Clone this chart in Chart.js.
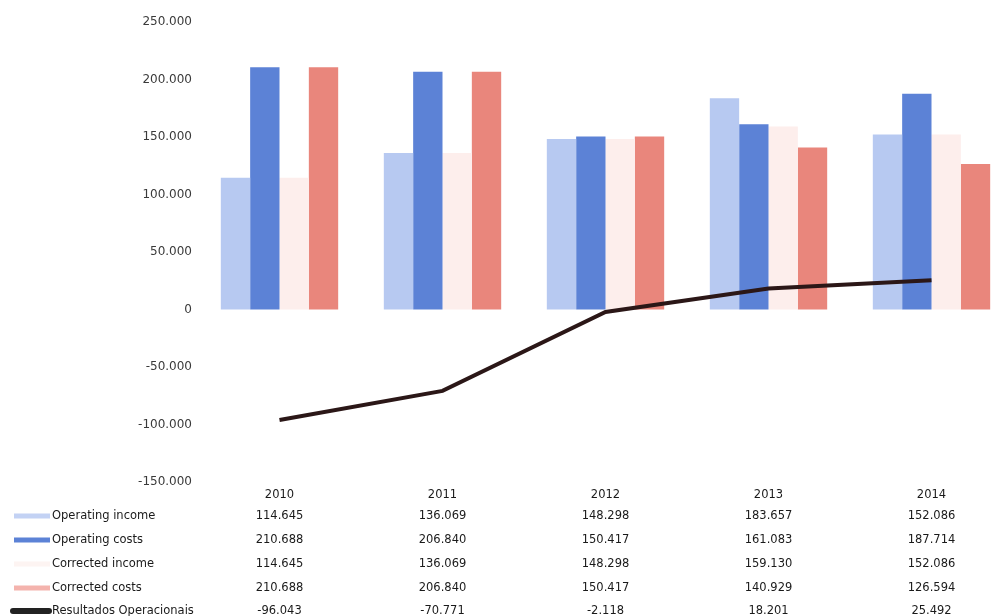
<!DOCTYPE html>
<html>
<head>
<meta charset="utf-8">
<script src="https://cdn.jsdelivr.net/npm/chart.js@4.4.1/dist/chart.umd.min.js"></script>
<style>
    html, body { margin: 0; padding: 0; background: #fff; overflow: hidden; }
    #wrap { width: 1016px; height: 616px; position: relative; }
</style>
</head>
<body>
<div id="wrap"><canvas id="chart"></canvas></div>
<script>
const years = ['2010', '2011', '2012', '2013', '2014'];
const operatingIncome = [114645, 136069, 148298, 183657, 152086];
const operatingCosts = [210688, 206840, 150417, 161083, 187714];
const correctedIncome = [114645, 136069, 148298, 159130, 152086];
const correctedCosts = [210688, 206840, 150417, 140929, 126594];
const resultados = [-96043, -70771, -2118, 18201, 25492];
const yTicks = [-150000, -100000, -50000, 0, 50000, 100000, 150000, 200000, 250000];

// formato com ponto nos milhares
function fmt(v) {
    const s = Math.abs(v).toString().replace(/\B(?=(\d{3})+(?!\d))/g, '.');
    return (v < 0 ? '-' : '') + s;
}

const FONT = '"DejaVu Sans", sans-serif';

// tabela de dados por baixo do gráfico
const dataTable = {
    id: 'dataTable',
    afterDraw(chart) {
        const ctx = chart.ctx;
        const x = chart.scales.x;
        const rowY = [516, 540, 564, 588, 611];
        ctx.save();
        ctx.font = '11.5px ' + FONT;
        ctx.textBaseline = 'middle';
        chart.data.datasets.forEach((ds, i) => {
            const y = rowY[i];
            // marcador da legenda
            ctx.fillStyle = ds.legendColor;
            if (ds.type === 'line') {
                ctx.lineCap = 'round';
                ctx.lineWidth = 6;
                ctx.strokeStyle = ds.legendColor;
                ctx.beginPath();
                ctx.moveTo(13, y);
                ctx.lineTo(49, y);
                ctx.stroke();
            } else {
                ctx.fillRect(14, y - 2.5, 36, 5);
            }
            ctx.fillStyle = '#1a1a1a';
            ctx.textAlign = 'left';
            ctx.fillText(ds.label, 52, y);
            ctx.textAlign = 'center';
            ds.data.forEach((v, j) => {
                ctx.fillText(fmt(v), x.getPixelForValue(j), y);
            });
        });
        ctx.restore();
    }
};

new Chart(document.getElementById('chart').getContext('2d'), {
    type: 'bar',
    data: {
        labels: years,
        datasets: [
            {
                label: 'Operating income',
                data: operatingIncome,
                backgroundColor: '#b7c9f1',
                legendColor: '#c3d2f4',
                order: 1
            },
            {
                label: 'Operating costs',
                data: operatingCosts,
                backgroundColor: '#5c82d6',
                legendColor: '#5c82d6',
                order: 1
            },
            {
                label: 'Corrected income',
                data: correctedIncome,
                backgroundColor: '#fdeeec',
                legendColor: '#fdf4f2',
                order: 1
            },
            {
                label: 'Corrected costs',
                data: correctedCosts,
                backgroundColor: '#e9867c',
                legendColor: '#f4b3ad',
                order: 1
            },
            {
                type: 'line',
                label: 'Resultados Operacionais',
                data: resultados,
                borderColor: '#2b1717',
                legendColor: '#222',
                borderWidth: 4,
                pointRadius: 0,
                tension: 0,
                order: 0
            }
        ]
    },
    options: {
        responsive: true,
        maintainAspectRatio: false,
        animation: false,
        layout: {
            padding: { left: 8, right: 3, top: 22, bottom: 0 }
        },
        datasets: {
            bar: {
                categoryPercentage: 0.72,
                barPercentage: 1.0
            }
        },
        plugins: {
            legend: { display: false },
            tooltip: { enabled: false }
        },
        scales: {
            y: {
                min: -150000,
                max: 250000,
                afterBuildTicks(scale) {
                    scale.ticks = yTicks.map(v => ({ value: v }));
                },
                afterFit(scale) {
                    scale.width = 190;
                },
                grid: { display: false, drawTicks: false },
                border: { display: false },
                ticks: {
                    padding: 6,
                    color: '#3a3a3a',
                    font: { family: FONT, size: 12 },
                    callback: v => fmt(v)
                }
            },
            x: {
                afterFit(scale) {
                    scale.height = 134;
                },
                grid: { display: false, drawTicks: false },
                border: { display: false },
                ticks: {
                    padding: 6,
                    color: '#1a1a1a',
                    font: { family: FONT, size: 11.5 }
                }
            }
        }
    },
    plugins: [dataTable]
});
</script>
</body>
</html>
